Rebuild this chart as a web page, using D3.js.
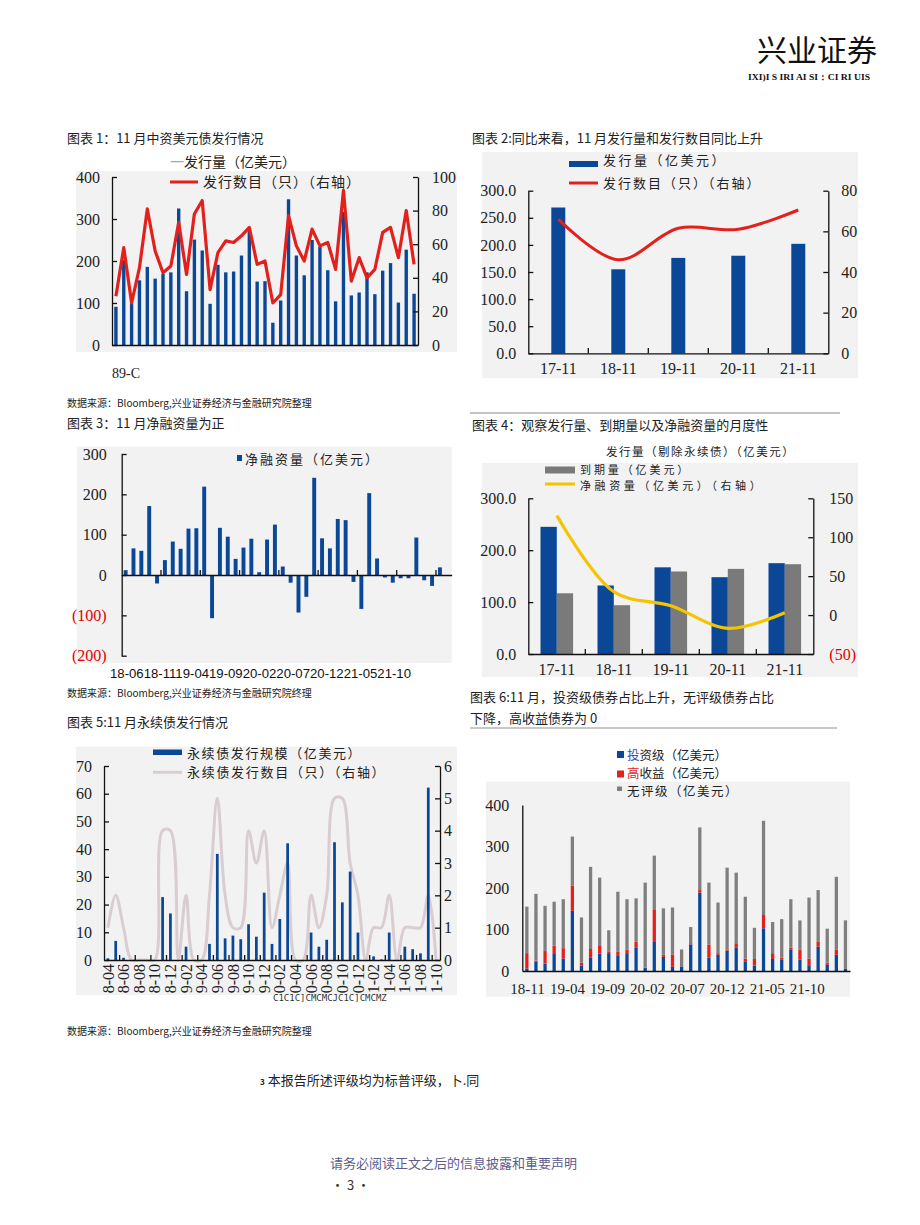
<!DOCTYPE html>
<html><head><meta charset="utf-8">
<script src="https://cdn.jsdelivr.net/npm/d3@7"></script>
<style>
body{margin:0;background:#fff}
svg{display:block}
</style></head><body><svg id="c" width="920" height="1225" font-family="Noto Sans CJK SC, Noto Sans, sans-serif"></svg>
<script>
// ---------- DATA ----------
// Chart 1: monthly issuance (USD 100m) and count
const c1Months = ["18-08","18-09","18-10","18-11","18-12",
 "19-01","19-02","19-03","19-04","19-05","19-06","19-07","19-08","19-09","19-10","19-11","19-12",
 "20-01","20-02","20-03","20-04","20-05","20-06","20-07","20-08","20-09","20-10","20-11","20-12",
 "21-01","21-02","21-03","21-04","21-05","21-06","21-07","21-08","21-09","21-10"];
const c1Issue = [91,202,99,154,186,158,169,173,325,128,251,225,98,191,173,175,213,271,151,152,53,106,347,213,166,250,234,178,104,317,118,125,173,121,177,195,101,227,122];
const c1Count = [29,58,25,46,81,56,43,47,73,42,78,86,33,55,62,61,65,70,48,50,25,30,77,59,50,69,59,61,45,92,38,52,40,45,67,70,52,80,48];
const c1LeftTicks = [0,100,200,300,400];
const c1RightTicks = [0,20,40,60,80,100];

// Chart 2: November of each year
const c2Years = ["17-11","18-11","19-11","20-11","21-11"];
const c2Issue = [269,155,176,180,202];
const c2Count = [66,46,61.5,61,70.5];
const c2LeftTicks = [0,50,100,150,200,250,300];
const c2RightTicks = [0,20,40,60,80];

// Chart 3: net financing
const c3Months = ["18-06","18-07","18-08","18-09","18-10","18-11","18-12",
 "19-01","19-02","19-03","19-04","19-05","19-06","19-07","19-08","19-09","19-10","19-11","19-12",
 "20-01","20-02","20-03","20-04","20-05","20-06","20-07","20-08","20-09","20-10","20-11","20-12",
 "21-01","21-02","21-03","21-04","21-05","21-06","21-07","21-08","21-09","21-10","21-11"];
const c3Net = [12,66,60,171,-21,37,83,65,115,116,219,-107,117,95,40,68,90,7,88,125,21,-19,-93,-54,241,91,66,139,136,-17,-84,203,41,-6,-19,-8,-8,93,-13,-27,19];
const c3Ticks = [-200,-100,0,100,200,300];
const c3AxisText = "18-0618-1119-0419-0920-0220-0720-1221-0521-10";

// Chart 4: issuance ex-perpetuals, maturities, net financing
const c4Years = ["17-11","18-11","19-11","20-11","21-11"];
const c4Issue = [245,132,167,148,175];
const c4Mature = [117,94,159,164,173];
const c4Net = [128,30,12,-17,3];
const c4LeftTicks = [0,100,200,300];
const c4RightTicks = [-50,0,50,100,150];

// Chart 5: perpetual bonds
const c5Months = ["18-04","18-05","18-06","18-07","18-08","18-09","18-10","18-11","18-12",
 "19-01","19-02","19-03","19-04","19-05","19-06","19-07","19-08","19-09","19-10","19-11","19-12",
 "20-01","20-02","20-03","20-04","20-05","20-06","20-07","20-08","20-09","20-10","20-11","20-12",
 "21-01","21-02","21-03","21-04","21-05","21-06","21-07","21-08","21-09","21-10"];
const c5Size = [0.6,6.9,0.8,0,0,0,0,22.7,16.8,0,4.8,0,0,5.8,38.3,7.8,8.8,7.5,12.9,8.4,24.3,5.8,14.8,42.1,0,0,9.9,4.8,7.3,42.5,20.8,31.9,9.9,0,1.3,0.2,9.9,0,4.8,3.9,2.4,62.2,0];
const c5Count = [1,2,1,0,0,0,0,4,4,0,2,0,0,2,5,2,1,1,4,3,4,1,2,3,0,0,2,1,2,5,5,3,2,0,1,1,2,0,1,1,1,2,0];
const c5LeftTicks = [0,10,20,30,40,50,60,70];
const c5RightTicks = [0,1,2,3,4,5,6];
const c5Labels = ["8-04","8-06","8-08","8-10","8-12","9-02","9-04","9-06","9-08","9-10","9-12",
 "0-02","0-04","0-06","0-08","0-10","0-12","1-02","1-04","1-06","1-08","1-10"];

// Chart 6: by rating
const c6Months = ["18-11","18-12","19-01","19-02","19-03","19-04","19-05","19-06","19-07","19-08","19-09","19-10","19-11","19-12",
 "20-01","20-02","20-03","20-04","20-05","20-06","20-07","20-08","20-09","20-10","20-11","20-12",
 "21-01","21-02","21-03","21-04","21-05","21-06","21-07","21-08","21-09","21-10"];
const c6IG = [6,22,18,41,30,145,13,33,42,43,38,43,57,8,70,34,10,11,64,189,32,39,49,57,22,13,103,29,27,51,28,14,59,15,39,5];
const c6HY = [37,3,30,20,25,61,7,20,20,3,8,9,14,0,77,5,30,0,3,6,32,4,3,10,8,16,32,14,5,5,24,16,11,5,12,0];
const c6NR = [112,161,109,106,118,118,109,198,163,52,145,121,104,205,131,112,113,41,39,151,149,122,197,170,149,75,227,75,93,117,70,147,125,82,176,117];
const c6Ticks = [0,100,200,300,400];
const c6Labels = ["18-11","19-04","19-09","20-02","20-07","20-12","21-05","21-10"];

// ---------- STYLE ----------
const BLUE="#0b4797", RED="#e3211c", GREY="#7a7a7a", BG="#f2f2f2", YEL="#f5c400", LGREY="#d9cdd1";
const SERIF="Liberation Serif, Times New Roman, serif";
const svg = d3.select("#c");
svg.append("rect").attr("width",920).attr("height",1225).attr("fill","#fff");

function T(x,y,s,o={}){
  const t = svg.append("text").attr("x",x).attr("y",y).text(s)
    .attr("font-size",o.fs||13).attr("fill",o.fill||"#222");
  if(o.anchor) t.attr("text-anchor",o.anchor);
  if(o.ls) t.attr("letter-spacing",o.ls);
  if(o.ff) t.attr("font-family",o.ff);
  if(o.fw) t.attr("font-weight",o.fw);
  if(o.tl) t.attr("textLength",o.tl).attr("lengthAdjust","spacingAndGlyphs");
  return t;
}
function styleAxis(sel, fs=15){
  sel.select(".domain").attr("stroke","#111").attr("stroke-width",1.3);
  sel.selectAll(".tick line").attr("stroke","#111").attr("stroke-width",1.3);
  sel.selectAll(".tick text").attr("font-family",SERIF).attr("font-size",fs).attr("fill","#222");
}
const negFmt = d => d<0 ? "("+(-d)+")" : d;
function redNeg(sel){ sel.selectAll(".tick text").attr("fill",d=>d<0?"#e00000":"#222"); }
function boundary(x, key){ return x(key) - x.step()*x.paddingInner()/2; }

// ---------- HEADER / PAGE TEXT ----------
T(877,61,"兴业证券",{fs:30,anchor:"end",fill:"#111"});
T(870,80,"IXI)I S IRI AI SI：CI RI UIS",{fs:9,anchor:"end",ff:SERIF,fw:"bold",tl:122,fill:"#111"});

T(67,143,"图表 1：11 月中资美元债发行情况");
T(472,143,"图表 2:同比来看，11 月发行量和发行数目同比上升");
T(67,407,"数据来源：Bloomberg,兴业证券经济与金融研究院整理",{fs:10});
T(67,428,"图表 3：11 月净融资量为正");
svg.append("line").attr("x1",470).attr("x2",840).attr("y1",413).attr("y2",413).attr("stroke","#8a8a8a");
T(472,430,"图表 4：观察发行量、到期量以及净融资量的月度性");
T(67,697,"数据来源：Bloomberg,兴业证券经济与金融研究院终理",{fs:10});
T(470,702,"图表 6:11 月，投资级债券占比上升，无评级债券占比");
T(470,723,"下降，高收益债券为 0");
svg.append("line").attr("x1",470).attr("x2",837).attr("y1",728).attr("y2",728).attr("stroke","#c8c8c8").attr("stroke-width",2);
T(67,727,"图表 5:11 月永续债发行情况");
T(67,1035,"数据来源：Bloomberg,兴业证券经济与金融研究院整理",{fs:10});
const fn = T(260,1085,"",{fs:13});
fn.append("tspan").text("3").attr("font-size",8).attr("font-weight","bold");
fn.append("tspan").text(" 本报告所述评级均为标普评级，卜.同");
T(330,1168,"请务必阅读正文之后的信息披露和重要声明",{fill:"#5c5c8e"});
T(331,1190,"· 3 ·",{fill:"#333"});

// ---------- CHART 1 ----------
{
  svg.append("rect").attr("x",76).attr("y",171).attr("width",381).attr("height",181).attr("fill",BG);
  const x = d3.scaleBand().domain(c1Months).range([112,418]).paddingInner(0.57).paddingOuter(0.285);
  const yL = d3.scaleLinear().domain([0,400]).range([345,177]);
  const yR = d3.scaleLinear().domain([0,100]).range([345,177]);
  svg.append("g").selectAll("rect").data(c1Issue).join("rect")
    .attr("x",(d,i)=>x(c1Months[i])).attr("y",d=>yL(d)).attr("width",x.bandwidth())
    .attr("height",d=>yL(0)-yL(d)).attr("fill",BLUE);
  svg.append("g").attr("transform","translate(112,0)")
    .call(d3.axisLeft(yL).tickValues(c1LeftTicks).tickSize(-5).tickSizeOuter(0).tickPadding(12)).call(styleAxis,16);
  svg.append("g").attr("transform","translate(418,0)")
    .call(d3.axisRight(yR).tickValues(c1RightTicks).tickSize(-5).tickSizeOuter(0).tickPadding(14)).call(styleAxis,16);
  svg.append("g").attr("transform","translate(0,345)")
    .call(d3.axisBottom(x).tickValues([]).tickSizeOuter(0)).call(styleAxis);
  svg.append("path").datum(c1Count).attr("fill","none").attr("stroke",RED).attr("stroke-width",3.2)
    .attr("stroke-linejoin","round")
    .attr("d",d3.line().x((d,i)=>x(c1Months[i])+x.bandwidth()/2).y(d=>yR(d)));
  const l1 = T(170,167,"",{fs:14});
  l1.append("tspan").text("一").attr("fill","#8eaadb");
  l1.append("tspan").text("发行量（亿美元）");
  svg.append("line").attr("x1",170).attr("x2",198).attr("y1",182).attr("y2",182).attr("stroke",RED).attr("stroke-width",3);
  T(203,187,"发行数目（只）（右轴）",{fs:14,ls:1});
  T(112,378,"89-C",{fs:14,ff:SERIF});
}

// ---------- CHART 2 ----------
{
  svg.append("rect").attr("x",482).attr("y",152).attr("width",376).attr("height",226).attr("fill",BG);
  const x = d3.scaleBand().domain(c2Years).range([528.3,828.3]).paddingInner(0.767).paddingOuter(0.3835);
  const yL = d3.scaleLinear().domain([0,300]).range([353.3,190.7]);
  const yR = d3.scaleLinear().domain([0,80]).range([353.3,190.7]);
  svg.append("g").selectAll("rect").data(c2Issue).join("rect")
    .attr("x",(d,i)=>x(c2Years[i])).attr("y",d=>yL(d)).attr("width",x.bandwidth())
    .attr("height",d=>yL(0)-yL(d)).attr("fill",BLUE);
  svg.append("g").attr("transform","translate(528.3,0)")
    .call(d3.axisLeft(yL).tickValues(c2LeftTicks).tickFormat(d3.format(".1f")).tickSize(-5).tickSizeOuter(0).tickPadding(12)).call(styleAxis,16);
  svg.append("g").attr("transform","translate(828.3,0)")
    .call(d3.axisRight(yR).tickValues(c2RightTicks).tickSize(-5).tickSizeOuter(0).tickPadding(13)).call(styleAxis,16);
  const xa = svg.append("g").attr("transform","translate(0,353.3)")
    .call(d3.axisBottom(x).tickSize(0).tickSizeOuter(0).tickPadding(10)).call(styleAxis,16);
  xa.selectAll(".tick text").attr("dy","0.7em");
  svg.append("g").selectAll("line").data(c2Years.slice(1)).join("line")
    .attr("x1",d=>boundary(x,d)).attr("x2",d=>boundary(x,d)).attr("y1",353.3).attr("y2",348)
    .attr("stroke","#111").attr("stroke-width",1.3);
  svg.append("path").datum(c2Count).attr("fill","none").attr("stroke",RED).attr("stroke-width",3)
    .attr("d",d3.line().curve(d3.curveCatmullRom.alpha(0.5)).x((d,i)=>x(c2Years[i])+x.bandwidth()/2).y(d=>yR(d)));
  svg.append("rect").attr("x",569).attr("y",161).attr("width",29).attr("height",6).attr("fill",BLUE);
  T(603,165,"发行量（亿美元）",{fs:13,ls:2.5});
  svg.append("line").attr("x1",569).attr("x2",598).attr("y1",183).attr("y2",183).attr("stroke",RED).attr("stroke-width",3);
  T(603,188,"发行数目（只）（右轴）",{fs:13,ls:2});
}

// ---------- CHART 3 ----------
{
  svg.append("rect").attr("x",76.7).attr("y",446.7).attr("width",375).attr("height",216.3).attr("fill",BG);
  const x = d3.scaleBand().domain(c3Months).range([121.7,451.7]).paddingInner(0.5).paddingOuter(0.25);
  const y = d3.scaleLinear().domain([-200,300]).range([655.7,454]);
  svg.append("g").selectAll("rect").data(c3Net).join("rect")
    .attr("x",(d,i)=>x(c3Months[i])).attr("y",d=>y(Math.max(0,d))).attr("width",x.bandwidth())
    .attr("height",d=>Math.abs(y(d)-y(0))).attr("fill",BLUE);
  svg.append("g").attr("transform","translate(121.7,0)")
    .call(d3.axisLeft(y).tickValues(c3Ticks).tickFormat(negFmt).tickSize(-5).tickSizeOuter(0).tickPadding(15))
    .call(styleAxis,16).call(redNeg);
  svg.append("g").attr("transform","translate(0,"+y(0)+")")
    .call(d3.axisBottom(x).tickValues([]).tickSizeOuter(0)).call(styleAxis);
  const tk = c3Months.filter((d,i)=>i>0 && i%5===0);
  svg.append("g").selectAll("line").data(tk).join("line")
    .attr("x1",d=>boundary(x,d)).attr("x2",d=>boundary(x,d)).attr("y1",y(0)).attr("y2",y(0)-5)
    .attr("stroke","#111").attr("stroke-width",1.3);
  T(110,678,c3AxisText,{fs:13.5,ff:"Liberation Sans, Arial, sans-serif",tl:301,fill:"#111"});
  svg.append("rect").attr("x",237).attr("y",455).attr("width",5).attr("height",6).attr("fill",BLUE);
  T(245,464,"净融资量（亿美元）",{fs:13,ls:2});
}

// ---------- CHART 4 ----------
{
  svg.append("rect").attr("x",482).attr("y",463).attr("width",376).attr("height",214).attr("fill",BG);
  const x0 = d3.scaleBand().domain(c4Years).range([528.3,813.3]).paddingInner(0.428).paddingOuter(0.214);
  const series = ["issue","mature"];
  const x1 = d3.scaleBand().domain(series).range([0,x0.bandwidth()]);
  const yL = d3.scaleLinear().domain([0,300]).range([654,498.3]);
  const yR = d3.scaleLinear().domain([-50,150]).range([654,498.3]);
  const rows = c4Years.map((k,i)=>({k, issue:c4Issue[i], mature:c4Mature[i]}));
  const grp = svg.append("g").selectAll("g").data(rows).join("g").attr("transform",d=>"translate("+x0(d.k)+",0)");
  grp.selectAll("rect").data(d=>series.map(s=>({s,v:d[s]}))).join("rect")
    .attr("x",d=>x1(d.s)).attr("y",d=>yL(d.v)).attr("width",x1.bandwidth())
    .attr("height",d=>yL(0)-yL(d.v)).attr("fill",d=>d.s==="issue"?BLUE:GREY);
  svg.append("g").attr("transform","translate(528.3,0)")
    .call(d3.axisLeft(yL).tickValues(c4LeftTicks).tickFormat(d3.format(".1f")).tickSize(-5).tickSizeOuter(0).tickPadding(12)).call(styleAxis,16);
  svg.append("g").attr("transform","translate(813.3,0)")
    .call(d3.axisRight(yR).tickValues(c4RightTicks).tickFormat(negFmt).tickSize(-5).tickSizeOuter(0).tickPadding(16))
    .call(styleAxis,16).call(redNeg);
  const xa = svg.append("g").attr("transform","translate(0,654)")
    .call(d3.axisBottom(x0).tickSize(0).tickSizeOuter(0).tickPadding(10)).call(styleAxis,16);
  xa.selectAll(".tick text").attr("dy","0.7em");
  svg.append("g").selectAll("line").data(c4Years.slice(1)).join("line")
    .attr("x1",d=>boundary(x0,d)).attr("x2",d=>boundary(x0,d)).attr("y1",654).attr("y2",649)
    .attr("stroke","#111").attr("stroke-width",1.3);
  svg.append("path").datum(c4Net).attr("fill","none").attr("stroke",YEL).attr("stroke-width",3.2)
    .attr("d",d3.line().curve(d3.curveCatmullRom.alpha(0.5)).x((d,i)=>x0(c4Years[i])+x0.bandwidth()/2).y(d=>yR(d)));
  T(606,456,"发行量（剔除永续债）（亿美元）",{fs:11.5,ls:1.5});
  svg.append("rect").attr("x",545).attr("y",466.5).attr("width",30).attr("height",7).attr("fill",GREY);
  T(580,473.5,"到期量（亿美元）",{fs:11,ls:2.9});
  svg.append("line").attr("x1",545).attr("x2",575).attr("y1",484).attr("y2",484).attr("stroke",YEL).attr("stroke-width",3);
  T(580,490,"净融资量（亿美元）（右轴）",{fs:11,ls:3.6});
}

// ---------- CHART 5 ----------
{
  svg.append("rect").attr("x",76).attr("y",746.7).attr("width",381).attr("height",248.3).attr("fill",BG);
  const x = d3.scaleBand().domain(c5Months).range([104,440]).paddingInner(0.65).paddingOuter(0.325);
  const yL = d3.scaleLinear().domain([0,70]).range([960,766]);
  const yR = d3.scaleLinear().domain([0,6]).range([960,766]);
  svg.append("path").datum(c5Count).attr("fill","none").attr("stroke",LGREY).attr("stroke-width",3)
    .attr("d",d3.line().curve(d3.curveCatmullRom.alpha(0.5)).x((d,i)=>x(c5Months[i])+x.bandwidth()/2).y(d=>yR(d)));
  svg.append("g").selectAll("rect").data(c5Size).join("rect")
    .attr("x",(d,i)=>x(c5Months[i])).attr("y",d=>yL(d)).attr("width",x.bandwidth())
    .attr("height",d=>yL(0)-yL(d)).attr("fill",BLUE);
  svg.append("g").attr("transform","translate(104,0)")
    .call(d3.axisLeft(yL).tickValues(c5LeftTicks).tickSize(-5).tickSizeOuter(0).tickPadding(12)).call(styleAxis,16);
  svg.append("g").attr("transform","translate(440,0)")
    .call(d3.axisRight(yR).tickValues(c5RightTicks).tickFormat(d3.format("d")).tickSize(-5).tickSizeOuter(0).tickPadding(4)).call(styleAxis,16);
  svg.append("g").attr("transform","translate(0,960)")
    .call(d3.axisBottom(x).tickValues([]).tickSizeOuter(0)).call(styleAxis);
  const tk = c5Months.filter((d,i)=>i>0 && i%2===0);
  svg.append("g").selectAll("line").data(tk).join("line")
    .attr("x1",d=>boundary(x,d)).attr("x2",d=>boundary(x,d)).attr("y1",960).attr("y2",955)
    .attr("stroke","#111").attr("stroke-width",1.3);
  const lblMonths = c5Months.filter((d,i)=>i%2===0);
  svg.append("g").selectAll("text").data(c5Labels).join("text")
    .attr("transform",(d,i)=>"translate("+(x(lblMonths[i])+x.bandwidth()/2)+",964) rotate(-90)")
    .attr("text-anchor","end").attr("dy","0.35em").attr("font-family",SERIF).attr("font-size",16)
    .attr("fill","#222").text(d=>d);
  T(273,1001,"C1C1C]CMCMCJC1C]CMCMZ",{fs:9,ff:"DejaVu Sans Mono, monospace",fill:"#333"});
  svg.append("rect").attr("x",153).attr("y",749.5).attr("width",29).attr("height",5.5).attr("fill",BLUE);
  T(187,758,"永续债发行规模（亿美元）",{fs:13,ls:1.6});
  svg.append("line").attr("x1",153).attr("x2",182).attr("y1",772.3).attr("y2",772.3).attr("stroke",LGREY).attr("stroke-width",3);
  T(187,777,"永续债发行数目（只）（右轴）",{fs:13,ls:1.7});
}

// ---------- CHART 6 ----------
{
  svg.append("rect").attr("x",486).attr("y",781.7).attr("width",364).attr("height",215).attr("fill",BG);
  const x = d3.scaleBand().domain(c6Months).range([522.3,850]).paddingInner(0.64).paddingOuter(0.32);
  const y = d3.scaleLinear().domain([0,400]).range([971,805]);
  const keys = ["ig","hy","nr"];
  const colors = {ig:BLUE, hy:RED, nr:"#7f7f7f"};
  const rows = c6Months.map((m,i)=>({m, ig:c6IG[i], hy:c6HY[i], nr:c6NR[i]}));
  const stacked = d3.stack().keys(keys)(rows);
  svg.append("g").selectAll("g").data(stacked).join("g").attr("fill",d=>colors[d.key])
    .selectAll("rect").data(d=>d).join("rect")
    .attr("x",d=>x(d.data.m)).attr("y",d=>y(d[1])).attr("width",x.bandwidth())
    .attr("height",d=>y(d[0])-y(d[1]));
  svg.append("g").attr("transform","translate(522.3,0)")
    .call(d3.axisLeft(y).tickValues(c6Ticks).tickSize(0).tickSizeOuter(0).tickPadding(13)).call(styleAxis,16);
  svg.append("g").attr("transform","translate(0,971)")
    .call(d3.axisBottom(x).tickValues([]).tickSizeOuter(0)).call(styleAxis);
  const xl = d3.scalePoint().domain(c6Labels).range([527.5,807.3]);
  svg.append("g").selectAll("text").data(c6Labels).join("text")
    .attr("x",d=>xl(d)).attr("y",994).attr("text-anchor","middle")
    .attr("font-family",SERIF).attr("font-size",15).attr("fill","#222").text(d=>d);
  svg.append("rect").attr("x",617).attr("y",751).attr("width",7).attr("height",7).attr("fill",BLUE);
  const a = T(627,759.5,"",{fs:12.5});
  a.append("tspan").text("投").attr("fill","#1f4fbf");
  a.append("tspan").text("资级（亿美元）");
  svg.append("rect").attr("x",617).attr("y",770.5).attr("width",7).attr("height",7).attr("fill",RED);
  const b = T(627,777.5,"",{fs:12.5});
  b.append("tspan").text("高").attr("fill",RED);
  b.append("tspan").text("收益（亿美元）");
  svg.append("rect").attr("x",617).attr("y",786.5).attr("width",5).attr("height",4.5).attr("fill","#7f7f7f");
  T(627,795.5,"无评级（亿美元）",{fs:12.5,ls:1.5});
}
</script></body></html>
